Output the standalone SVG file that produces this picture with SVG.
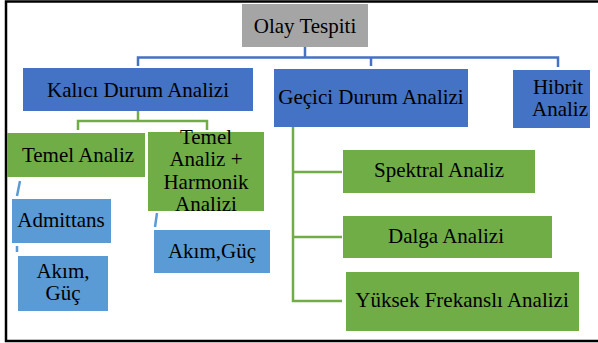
<svg xmlns="http://www.w3.org/2000/svg" width="598" height="343" viewBox="0 0 598 343">
<style>
text{font-family:"Liberation Serif","Times New Roman","DejaVu Serif",serif;font-size:21px;fill:#000;text-anchor:middle}
.gray{fill:#a5a5a5}
.blue{fill:#4472c4}
.green{fill:#70ad47}
.lblue{fill:#5b9bd5}
.cb{fill:none;stroke:#4472c4;stroke-width:2.5}
.cg{fill:none;stroke:#70ad47;stroke-width:2.5}
.cl{fill:none;stroke:#5b9bd5;stroke-width:2.5}
</style>
<rect width="598" height="343" fill="#fff"/>
<path d="M598 1.5H6V341H598" fill="none" stroke="#000" stroke-width="2.5"/>
<g id="connectors">
<path class="cb" d="M305 47V57.5M138 66V57.5H558V67M371 57.5V66"/>
<path class="cg" d="M138 111V121M78 130V121H207V130"/>
<path class="cg" d="M293 127V301H342M293 172H342M293 237H342"/>
<path class="cl" d="M20 181L17 196M17 246V252M157 213L155 227"/>
</g>
<g id="olay"><rect class="gray" x="242" y="4" width="126" height="43"/><text x="305" y="33">Olay Tespiti</text></g>
<g id="kalici"><rect class="blue" x="23" y="68" width="230" height="43"/><text x="138" y="97">Kalıcı Durum Analizi</text></g>
<g id="gecici"><rect class="blue" x="274" y="69" width="194" height="58"/><text x="371" y="104">Geçici Durum Analizi</text></g>
<g id="hibrit"><rect class="blue" x="513" y="70" width="77" height="58"/><text x="558" y="94">Hibrit</text><text x="560" y="116">Analiz</text></g>
<g id="temel"><rect class="green" x="7" y="133" width="138" height="44"/><text x="78" y="162">Temel Analiz</text></g>
<g id="temelharmonik"><rect class="green" x="148" y="132" width="116" height="79"/><text x="206" y="144">Temel</text><text x="206" y="166">Analiz +</text><text x="206" y="189">Harmonik</text><text x="206" y="211">Analizi</text></g>
<g id="admittans"><rect class="lblue" x="12" y="199" width="99" height="44"/><text x="61" y="227">Admittans</text></g>
<g id="akimguc1"><rect class="lblue" x="18" y="256" width="90" height="55"/><text x="63" y="278">Akım,</text><text x="63" y="300">Güç</text></g>
<g id="akimguc2"><rect class="lblue" x="154" y="230" width="116" height="43"/><text x="212" y="258">Akım,Güç</text></g>
<g id="spektral"><rect class="green" x="343" y="150" width="192" height="43"/><text x="439" y="177">Spektral Analiz</text></g>
<g id="dalga"><rect class="green" x="343" y="216" width="209" height="42"/><text x="446" y="243">Dalga Analizi</text></g>
<g id="yuksek"><rect class="green" x="346" y="272" width="233" height="59"/><text x="462" y="307">Yüksek Frekanslı Analizi</text></g>
</svg>
